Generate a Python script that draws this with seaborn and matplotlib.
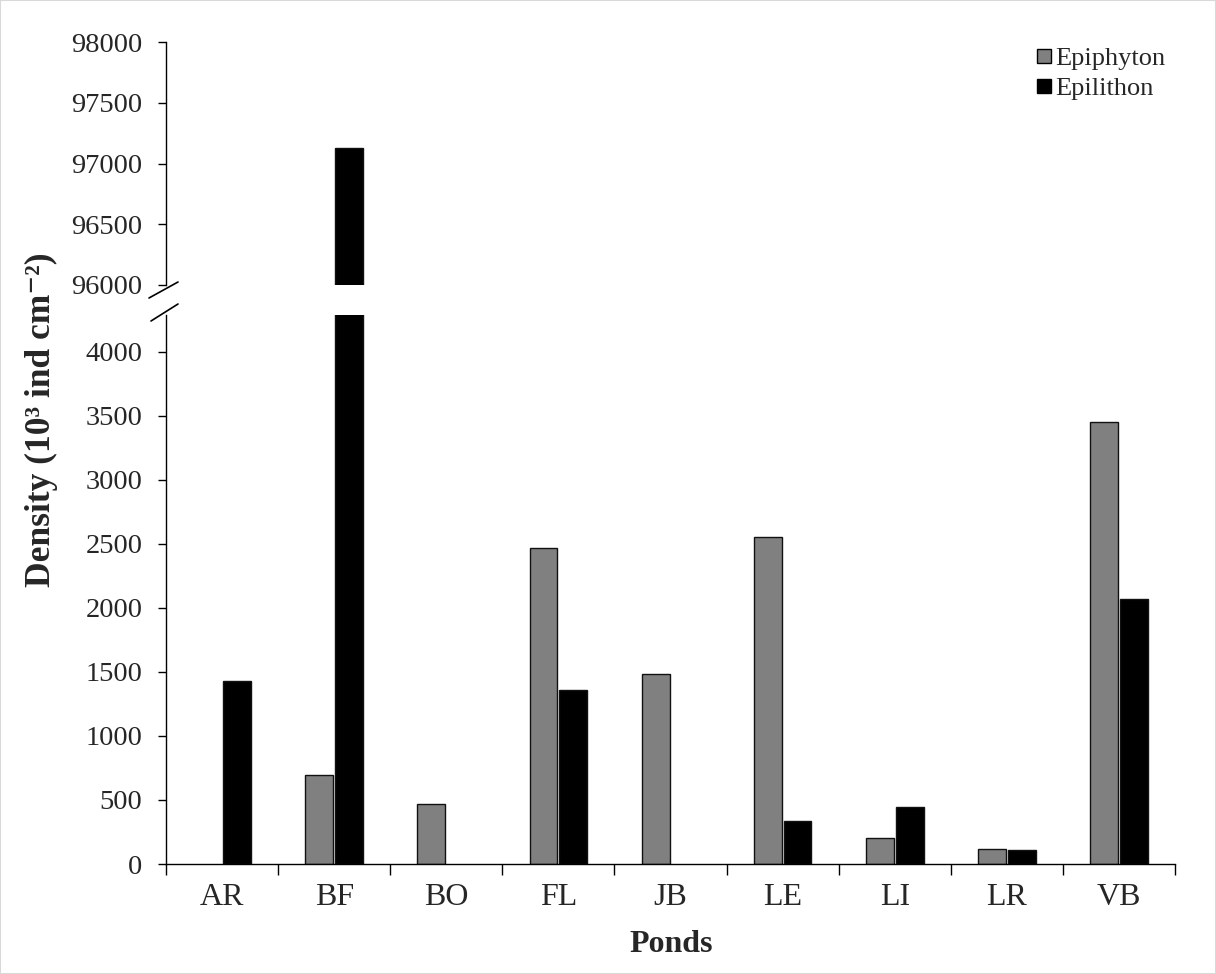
import numpy as np
import pandas as pd
import matplotlib
matplotlib.use("Agg")
import matplotlib.pyplot as plt
from matplotlib.lines import Line2D
import seaborn as sns

ponds = ["AR", "BF", "BO", "FL", "JB", "LE", "LI", "LR", "VB"]
epiphyton = [0, 692, 470, 2470, 1488, 2558, 202, 115, 3450]
epilithon = [1430, 97130, 0, 1362, 0, 336, 445, 113, 2073]
series_names = ["Epiphyton", "Epilithon"]
series_colors = {"Epiphyton": "#808080", "Epilithon": "#000000"}
low_ticks = list(range(0, 4001, 500))
high_ticks = list(range(96000, 98001, 500))

df = pd.DataFrame({
    "Pond": ponds * 2,
    "Density": epiphyton + epilithon,
    "Type": ["Epiphyton"] * len(ponds) + ["Epilithon"] * len(ponds),
})
# zero values are drawn as no bar at all
df["Density"] = df["Density"].replace(0, np.nan)

sns.set_theme(style="white")
plt.rcParams["font.family"] = ["Liberation Serif", "DejaVu Serif"]

W, H = 1216, 974
fig = plt.figure(figsize=(W / 100, H / 100), dpi=100)
fig.patch.set_facecolor("white")

def fx(px):
    return px / W

def fy(py):
    return 1 - py / H

left, right = 166, 1175
ax_lo = fig.add_axes([fx(left), fy(864), fx(right) - fx(left), fy(315) - fy(864)])
ax_hi = fig.add_axes([fx(left), fy(285), fx(right) - fx(left), fy(42) - fy(285)])

for ax in (ax_lo, ax_hi):
    sns.barplot(data=df, x="Pond", y="Density", hue="Type", hue_order=series_names,
                palette=series_colors, width=0.53, gap=0.06, edgecolor="#111111",
                linewidth=1.0, ax=ax, legend=False, errorbar=None, order=ponds)
    ax.set_xlim(-0.5, len(ponds) - 0.5)
    ax.set_xlabel("")
    ax.set_ylabel("")
    ax.set_facecolor("white")
    for s in ("top", "right"):
        ax.spines[s].set_visible(False)
    ax.spines["left"].set_color("black")
    ax.spines["left"].set_linewidth(1.0)
    ax.tick_params(axis="y", direction="out", length=6, width=1, color="black",
                   labelsize=20.5, pad=11, left=True)

ax_lo.set_ylim(0, 4289)
ax_lo.set_yticks(low_ticks)
ax_lo.set_yticklabels([str(t) for t in low_ticks])
ax_lo.spines["bottom"].set_color("black")
ax_lo.spines["bottom"].set_linewidth(1.0)
ax_lo.set_xticks(range(len(ponds)))
ax_lo.set_xticklabels(ponds)
ax_lo.tick_params(axis="x", which="major", length=0, labelsize=23, pad=14)
ax_lo.set_xticks(np.arange(-0.5, len(ponds) + 0.5, 1.0), minor=True)
ax_lo.tick_params(axis="x", which="minor", direction="out", length=8, width=1,
                  color="black", bottom=True)

ax_hi.set_ylim(96000, 98000)
ax_hi.set_yticks(high_ticks)
ax_hi.set_yticklabels([str(t) for t in high_ticks])
ax_hi.spines["bottom"].set_visible(False)
ax_hi.set_xticks([])
ax_hi.tick_params(axis="x", length=0, labelbottom=False)

# break marks
for (x0, y0, x1, y1) in [(149, 298, 178, 282), (151, 321, 178, 304)]:
    fig.add_artist(Line2D([fx(x0), fx(x1)], [fy(y0), fy(y1)], color="black", lw=1.2))

fig.text(fx(41), fy(420), "Density (10\u00b3 ind cm\u207b\u00b2)", rotation=90,
         ha="center", va="center", fontsize=25.5, fontweight="bold",
         family=["Liberation Serif", "DejaVu Serif"])
fig.text(fx(671), fy(945), "Ponds", ha="center", va="center", fontsize=23,
         fontweight="bold")

handles = [Line2D([], [], linestyle="none", marker="s", markersize=10.5,
                  markerfacecolor=series_colors[n], markeredgecolor="black",
                  markeredgewidth=1.0) for n in series_names]
fig.legend(handles, series_names, loc="upper right",
           bbox_to_anchor=(fx(1184), fy(28)), frameon=False, fontsize=19,
           handlelength=0.6, handletextpad=0.15, labelspacing=0.25,
           borderpad=0.2)

fig.add_artist(plt.Rectangle((0, 0), 1, 1, transform=fig.transFigure, fill=False,
                             edgecolor="#d9d9d9", linewidth=1.5))

fig.savefig("out.png", dpi=100, facecolor="white")
